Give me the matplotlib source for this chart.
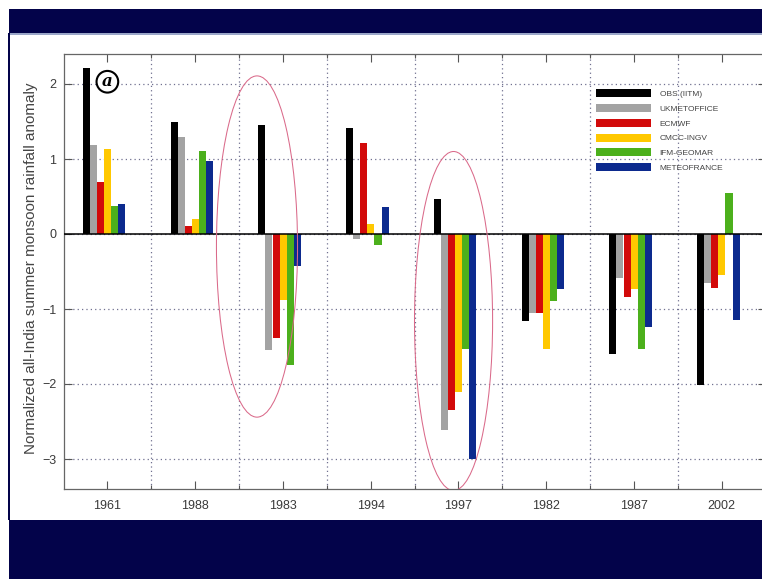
import matplotlib
matplotlib.use('Agg')
import matplotlib.pyplot as plt
from matplotlib.patches import Ellipse, Rectangle
import numpy as np

plt.rcParams['font.family'] = ['Liberation Sans', 'DejaVu Sans']

years = ['1961', '1988', '1983', '1994', '1997', '1982', '1987', '2002']
series_names = ['OBS (IITM)', 'UKMETOFFICE', 'ECMWF', 'CMCC-INGV', 'IFM-GEOMAR', 'METEOFRANCE']
obs = [2.21, 1.50, 1.45, 1.41, 0.47, -1.16, -1.60, -2.01]
ukmo = [1.19, 1.29, -1.55, -0.07, -2.61, -1.05, -0.59, -0.65]
ecmwf = [0.69, 0.11, -1.39, 1.22, -2.35, -1.05, -0.84, -0.72]
cmcc = [1.14, 0.20, -0.88, 0.13, -2.10, -1.53, -0.73, -0.54]
ifm = [0.38, 1.11, -1.75, -0.14, -1.53, -0.89, -1.53, 0.55]
meteo = [0.40, 0.98, -0.43, 0.36, -3.00, -0.73, -1.24, -1.15]
series = [obs, ukmo, ecmwf, cmcc, ifm, meteo]
colors = ['#000000', '#a3a3a3', '#d20a0a', '#ffc800', '#4cb01c', '#0c2a8e']

W, H = 762, 579
fig = plt.figure(figsize=(W / 100, H / 100), dpi=100)
fig.patch.set_facecolor('white')

navy = '#03034a'
# slide frame
fig.patches.append(Rectangle((9 / W, 1 - 33 / H), 1, 24 / H, transform=fig.transFigure,
                             facecolor=navy, edgecolor='none', zorder=0))
fig.patches.append(Rectangle((9 / W, 1 - 34.5 / H), 1, 1.5 / H, transform=fig.transFigure,
                             facecolor='#9aa6c8', edgecolor='none', zorder=0))
fig.patches.append(Rectangle((9 / W, 0), 1, 59 / H, transform=fig.transFigure,
                             facecolor=navy, edgecolor='none', zorder=0))
fig.patches.append(Rectangle((7.5 / W, 59 / H), 2 / W, 1 - 33 / H - 59 / H, transform=fig.transFigure,
                             facecolor=navy, edgecolor='none', zorder=0))

ax = fig.add_axes([63.5 / W, 1 - 489 / H, 702 / W, 435 / H])
x = np.arange(1, len(years) + 1)
bw = 0.08
for i, (vals, c, name) in enumerate(zip(series, colors, series_names)):
    ax.bar(x - 0.28 + 0.081 * i + bw / 2, vals, width=bw, color=c, edgecolor='none',
           label=name, zorder=3)

ax.set_xlim(0.5, 8.5)
ax.set_ylim(-3.4, 2.4)
ax.axhline(0, color='black', lw=1.1, zorder=4)

ax.set_xticks(x)
ax.set_xticklabels(years)
ax.set_xticks(np.arange(1.5, 8.5, 1), minor=True)
ax.set_yticks([-3, -2, -1, 0, 1, 2])
ax.set_yticklabels(['\u22123', '\u22122', '\u22121', '0', '1', '2'])
ax.tick_params(which='major', direction='in', length=6, top=True, right=True,
               labelsize=9, labelcolor='#3a3a3a', color='#555555', width=0.8)
ax.tick_params(axis='x', which='major', pad=8)
ax.tick_params(axis='y', which='major', pad=5)
ax.tick_params(which='minor', direction='in', length=3, top=True, color='#555555', width=0.8)
for s in ax.spines.values():
    s.set_color('#666666')
    s.set_linewidth(0.9)

ax.grid(which='minor', axis='x', linestyle=(0, (1, 2.5)), color='#707090', lw=0.9, zorder=1)
ax.grid(which='major', axis='y', linestyle=(0, (1, 2.5)), color='#707090', lw=0.9, zorder=1)
ax.grid(which='major', axis='x', visible=False)

fig.text(31 / W, 1 - 268 / H, 'Normalized all-India summer monsoon rainfall anomaly',
         rotation=90, ha='center', va='center', fontsize=11, color='#444444')

# circled panel label
ax.text(1.0, 2.03, 'a', fontsize=12, style='italic', family='DejaVu Serif', fontweight='bold',
        ha='center', va='center', zorder=6,
        bbox=dict(boxstyle='circle,pad=0.14', fc='white', ec='black', lw=1.5))

# highlighting ellipses
for cx, cy, ew, eh in [(2.705, -0.167, 0.924, 4.55), (4.945, -1.16, 0.89, 4.52)]:
    ax.add_patch(Ellipse((cx, cy), ew, eh, fill=False, edgecolor='#da6a8a', lw=0.75, zorder=5))

leg = ax.legend(loc='upper left', bbox_to_anchor=(596 / W, 1 - 89 / H),
                bbox_transform=fig.transFigure, frameon=False, fontsize=6,
                handlelength=6.6, handleheight=1.1, labelspacing=0.72,
                handletextpad=1.05, borderpad=0, borderaxespad=0)
for t in leg.get_texts():
    t.set_color('#444444')

fig.savefig('out.png', dpi=100)
